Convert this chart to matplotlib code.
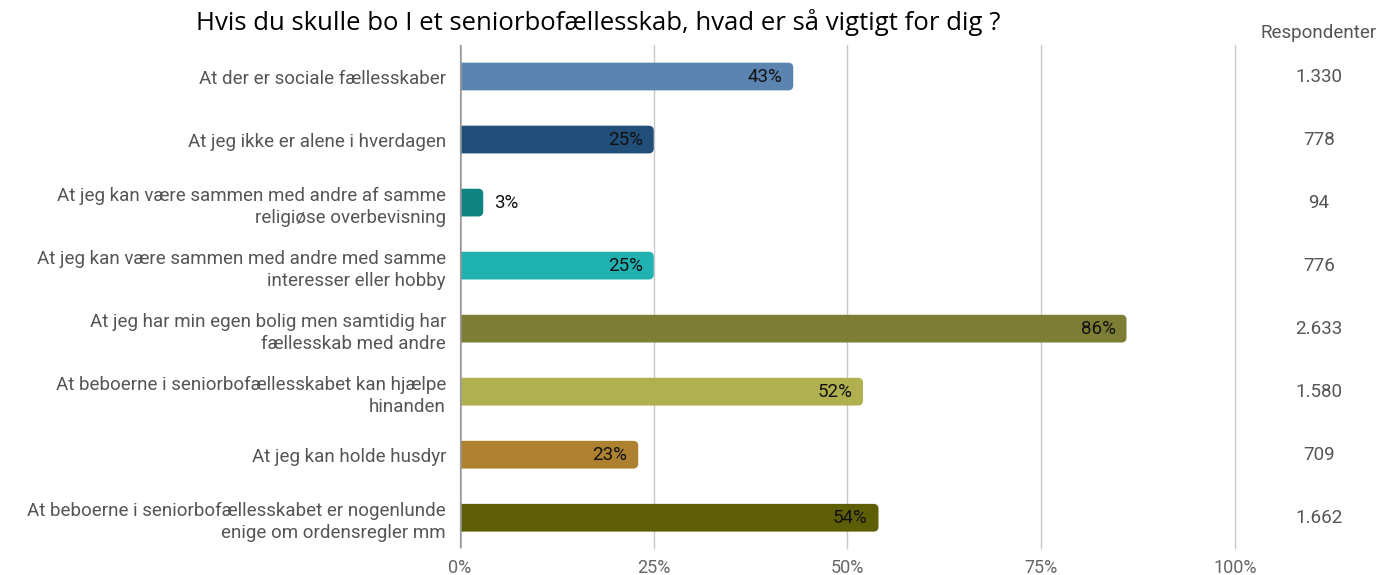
import matplotlib.pyplot as plt
from matplotlib.patches import FancyBboxPatch
from matplotlib.transforms import blended_transform_factory

# survey data
labels = [
    "At der er sociale fællesskaber",
    "At jeg ikke er alene i hverdagen",
    "At jeg kan være sammen med andre af samme\nreligiøse overbevisning",
    "At jeg kan være sammen med andre med samme\ninteresser eller hobby",
    "At jeg har min egen bolig men samtidig har\nfællesskab med andre",
    "At beboerne i seniorbofællesskabet kan hjælpe\nhinanden",
    "At jeg kan holde husdyr",
    "At beboerne i seniorbofællesskabet er nogenlunde\nenige om ordensregler mm",
]
percent = [43, 25, 3, 25, 86, 52, 23, 54]
respondents = ["1.330", "778", "94", "776", "2.633", "1.580", "709", "1.662"]
colors = ["#5b84b1", "#224e7a", "#108480", "#20b2b0",
          "#7d7d36", "#b0b050", "#ad8130", "#5d5e06"]
xticks = [0, 25, 50, 75, 100]

title = "Hvis du skulle bo I et seniorbofællesskab, hvad er så vigtigt for dig ?"

plt.rcParams['font.family'] = ['Roboto', 'DejaVu Sans']
fig = plt.figure(figsize=(13.81, 5.75), dpi=100)
ax = fig.add_axes([460/1381, 1-548/575, (1235-460)/1381, (548-45)/575])

ypos = list(range(len(labels)))
bars = ax.barh(ypos, percent, height=0.44, color=colors)

# swap plain bars for rounded ones (left end hidden behind the axis)
px_x = (1235-460)/100.0
px_y = (548-45)/7.98
for b in bars:
    x, y = b.get_x(), b.get_y()
    w, h = b.get_width(), b.get_height()
    b.set_visible(False)
    r = 5/px_x
    p = FancyBboxPatch((x-2, y), w+2, h,
                       boxstyle="round,pad=0,rounding_size=%f" % r,
                       mutation_aspect=px_x/px_y,
                       facecolor=b.get_facecolor(), edgecolor="none", zorder=3)
    ax.add_patch(p)

for i, v in enumerate(percent):
    if v > 10:
        ax.text(v - 1.4, i, "%d%%" % v, ha="right", va="center",
                fontsize=13.5, color="#111111", zorder=4)
    else:
        ax.text(v + 1.4, i, "%d%%" % v, ha="left", va="center",
                fontsize=13.5, color="#111111", zorder=4)

ax.set_xlim(0, 100)
ax.set_ylim(7.48, -0.5)
ax.set_xticks(xticks)
ax.set_xticklabels(["%d%%" % t for t in xticks], fontsize=13, color="#666666")
ax.set_yticks(ypos)
ax.set_yticklabels(labels, fontsize=13.5, color="#555555", linespacing=1.3)
ax.tick_params(axis="both", length=0)
ax.tick_params(axis="y", pad=10)
ax.tick_params(axis="x", pad=8)
for s in ax.spines.values():
    s.set_visible(False)
ax.grid(axis="x", color="#c8c8c8", linewidth=1)
for gl in ax.get_xgridlines():
    gl.set_clip_on(False)
ax.axvline(0, color="#9a9a9a", linewidth=1.8, zorder=5)
ax.set_axisbelow(True)

# respondents column
fig.text(1319/1381, 1-33/575, "Respondenter", ha="center", va="center",
         fontsize=13.5, color="#555555")
tr = blended_transform_factory(fig.transFigure, ax.transData)
for i, r in enumerate(respondents):
    ax.text(1319/1381, i, r, transform=tr, ha="center", va="center",
            fontsize=13.5, color="#555555")

fig.text(598/1381, 1-22/575, title, ha="center", va="center",
         fontsize=18.5, color="black", family=["Open Sans", "DejaVu Sans"])

fig.savefig("out.png", dpi=100)
